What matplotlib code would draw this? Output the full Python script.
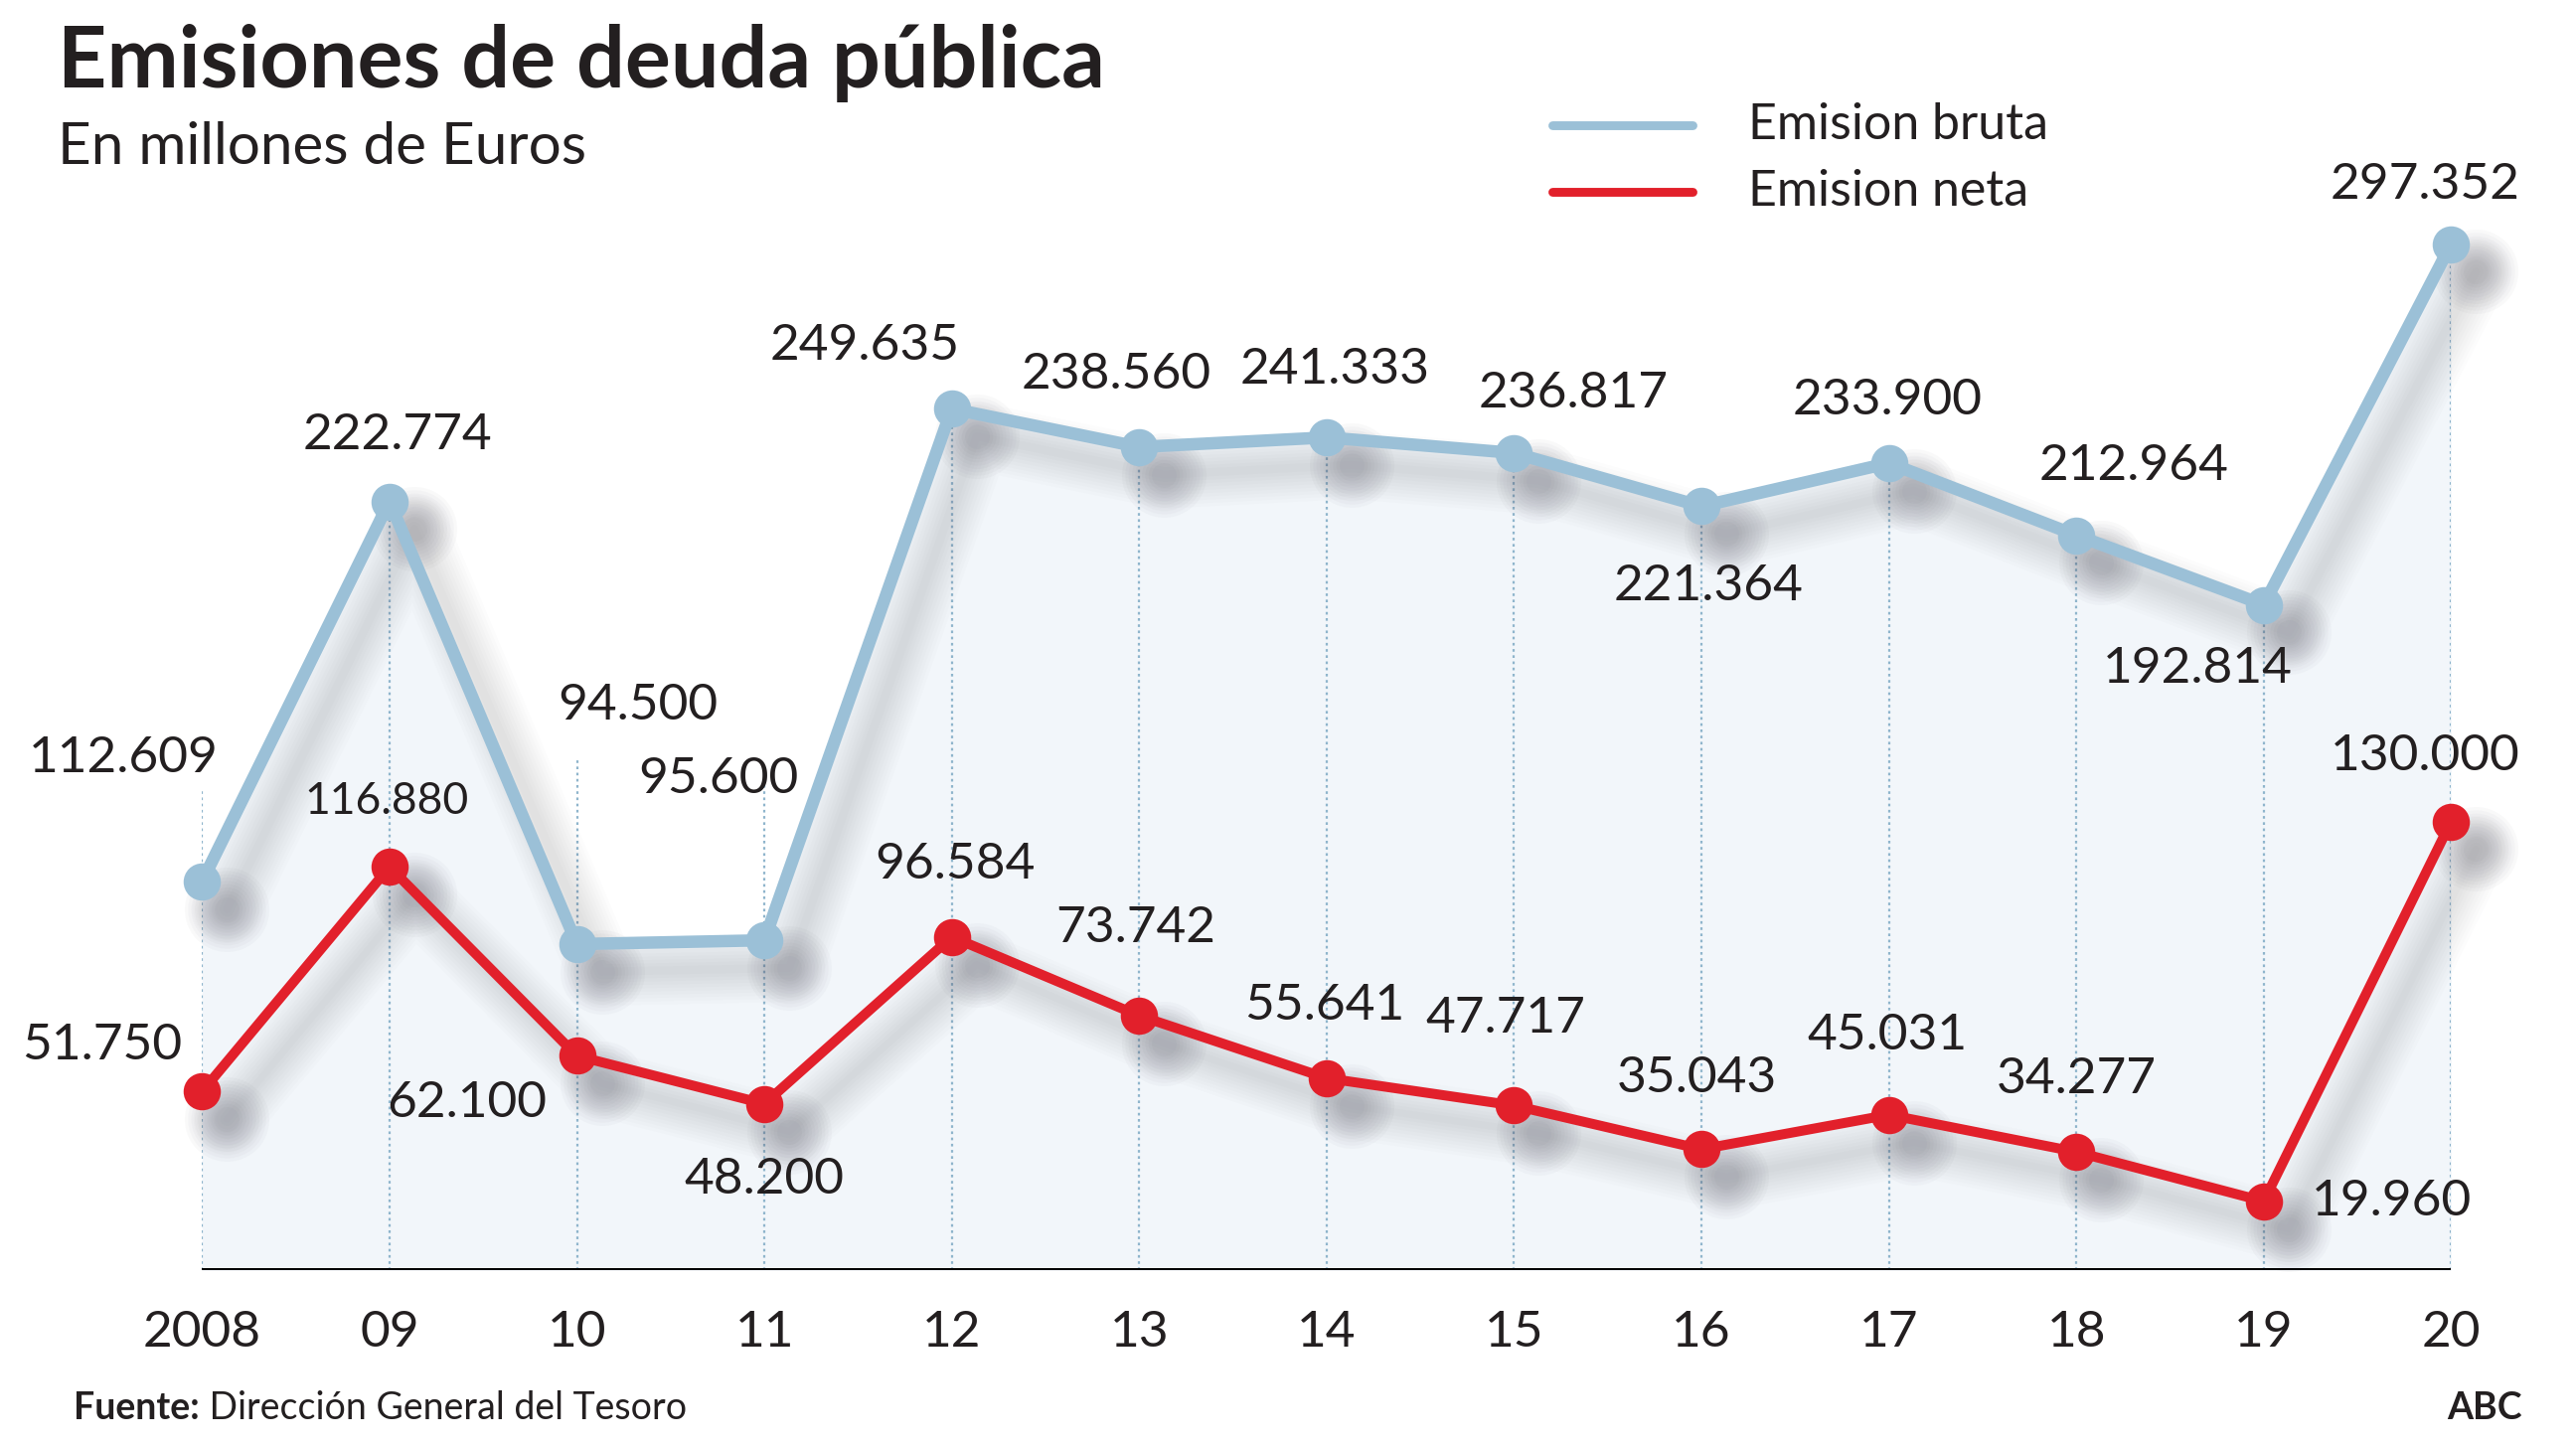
import matplotlib
matplotlib.use("Agg")
import matplotlib.pyplot as plt
from matplotlib.lines import Line2D
from matplotlib.transforms import ScaledTranslation

# ---------------- data ----------------
years = ["2008", "09", "10", "11", "12", "13", "14", "15", "16", "17", "18", "19", "20"]
bruta = [112.609, 222.774, 94.500, 95.600, 249.635, 238.560, 241.333,
         236.817, 221.364, 233.900, 212.964, 192.814, 297.352]
neta = [51.750, 116.880, 62.100, 48.200, 96.584, 73.742, 55.641,
        47.717, 35.043, 45.031, 34.277, 19.960, 130.000]

title = "Emisiones de deuda pública"
subtitle = "En millones de Euros"
legend_labels = ["Emision bruta", "Emision neta"]
source_bold = "Fuente:"
source_text = " Dirección General del Tesoro"
brand = "ABC"

# ---------------- style ----------------
FONT = ["Lato", "DejaVu Sans"]
plt.rcParams["font.family"] = FONT
TXT = "#231f20"
BLUE = "#9bc0d7"
RED = "#e2202b"
FILL = "#f2f6fa"
GUIDE = "#8fb5cc"

DPI = 200
W, H = 2592, 1455
fig = plt.figure(figsize=(W / DPI, H / DPI), dpi=DPI)

def fx(px):  # x in 1568-wide reference preview -> figure fraction
    return px / 1568

def fy(py):  # y in 880-high reference preview -> figure fraction
    return 1 - py / 880

PT = (2592 / 1568) * 72 / DPI  # preview px -> points

ax = fig.add_axes([fx(123), fy(773), fx(1492) - fx(123), fy(38) - fy(773)])
ax.set_xlim(0, len(years) - 1)
ax.set_ylim(0, 350)
for s in ax.spines.values():
    s.set_visible(False)
ax.set_yticks([])
x = list(range(len(years)))
ax.set_xticks(x)
ax.set_xticklabels(years, fontsize=18.5, color=TXT)
ax.tick_params(axis="x", length=0, pad=14.5)

# area under gross issuance
ax.fill_between(x, bruta, 0, color=FILL, zorder=1, lw=0)

# dotted guides
guide_ext = [27, 0, 54, 48, 0, 0, 0, 0, 0, 0, 0, 0, 0]
for xi, b, e in zip(x, bruta, guide_ext):
    ax.vlines(xi, 0, b + e, colors=GUIDE, linestyles=(0, (1.2, 1.6)), lw=0.8, zorder=2)

ax.axhline(0, color="black", lw=1.8, zorder=6)

# soft drop shadows
def shadow(vals, lw, ms):
    tr = ax.transData + ScaledTranslation(9 / 72, -10 / 72, fig.dpi_scale_trans)
    for k in range(10):
        ax.plot(x, vals, color="#50505c", alpha=0.016, lw=lw + 2.4 * k,
                solid_capstyle="round", solid_joinstyle="round",
                transform=tr, zorder=3, clip_on=False)
        ax.plot(x, vals, ls="none", marker="o", color="#50505c", alpha=0.03,
                ms=ms + 2.4 * k, mew=0, transform=tr, zorder=3, clip_on=False)

shadow(bruta, 3.0, 9.0)
shadow(neta, 2.6, 9.0)

ax.plot(x, bruta, color=BLUE, lw=4.5, marker="o", ms=13.5, mew=0,
        solid_joinstyle="round", zorder=5, clip_on=False)
ax.plot(x, neta, color=RED, lw=3.6, marker="o", ms=13.5, mew=0,
        solid_joinstyle="round", zorder=5, clip_on=False)

# value labels
bruta_off = [(-48, 75), (5, 40), (37, 145), (-28, 98), (-53, 38), (-14, 44), (5, 41),
             (36, 36), (4, -49), (-1, 38), (35, 42), (-40, -39), (-16, 36)]
neta_off = [(-61, 28), (-2, 40), (-67, -29), (0, -46), (2, 44), (-2, 53), (-1, 44),
            (-5, 53), (-3, 43), (-1, 48), (0, 44), (78, 0), (-16, 40)]
neta_size = [18.5, 16, 18.5, 18.5, 18.5, 18.5, 18.5, 18.5, 18.5, 18.5, 18.5, 18.5, 18.5]

for xi, v, (dx, dy) in zip(x, bruta, bruta_off):
    ax.annotate(f"{v:.3f}", (xi, v), xytext=(dx * PT, dy * PT), textcoords="offset points",
                ha="center", va="center", fontsize=18.5, color=TXT, zorder=8,
                annotation_clip=False)
for xi, v, (dx, dy), fs in zip(x, neta, neta_off, neta_size):
    ax.annotate(f"{v:.3f}", (xi, v), xytext=(dx * PT, dy * PT), textcoords="offset points",
                ha="center", va="center", fontsize=fs, color=TXT, zorder=8,
                annotation_clip=False)

# titles
fig.text(fx(35), fy(53), title, fontsize=31, fontweight="bold", color=TXT,
         ha="left", va="baseline")
fig.text(fx(35), fy(100), subtitle, fontsize=21, color=TXT, ha="left", va="baseline")

# legend
for (py, col), lab in zip([(76, BLUE), (117, RED)], legend_labels):
    fig.add_artist(Line2D([fx(945), fx(1030)], [fy(py), fy(py)], transform=fig.transFigure,
                          color=col, lw=3.2, solid_capstyle="round"))
    fig.text(fx(1064), fy(py), lab, fontsize=18, color=TXT, ha="left", va="center")

# footer
t = fig.text(fx(45), fy(857), source_bold, fontsize=13.5, fontweight="bold", color=TXT,
             ha="left", va="center")
fig.canvas.draw()
bb = t.get_window_extent()
fig.text(bb.x1 / W, fy(857), source_text, fontsize=13.5, color=TXT, ha="left", va="center")
fig.text(fx(1535), fy(857), brand, fontsize=13.5, fontweight="bold", color=TXT,
         ha="right", va="center")

fig.savefig("out.png", dpi=DPI, facecolor="white")
